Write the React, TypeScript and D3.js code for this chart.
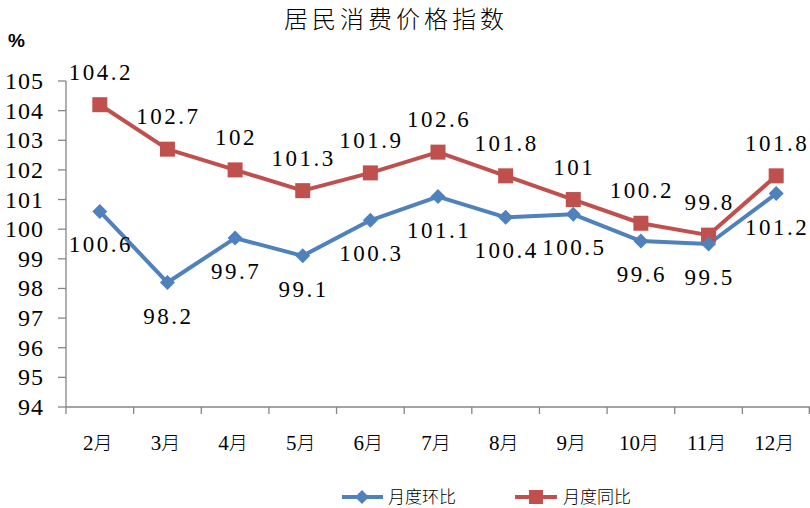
import * as d3 from "d3";

const months = ["2月", "3月", "4月", "5月", "6月", "7月", "8月", "9月", "10月", "11月", "12月"];
const huanbi = [100.6, 98.2, 99.7, 99.1, 100.3, 101.1, 100.4, 100.5, 99.6, 99.5, 101.2];
const tongbi = [104.2, 102.7, 102, 101.3, 101.9, 102.6, 101.8, 101, 100.2, 99.8, 101.8];
const yTicks = [94, 95, 96, 97, 98, 99, 100, 101, 102, 103, 104, 105];

const BLUE = "#4F81BD";
const RED = "#C0504D";
const AXIS = "#868686";
const serif = "Liberation Serif";
const cjk = "Noto Sans CJK SC";

export default function App() {
  const W = 810;
  const H = 508;
  const left = 66;
  const right = 810;
  const top = 81;
  const bottom = 407;

  const x = d3.scaleBand<string>().domain(months).range([left, right]);
  const y = d3.scaleLinear().domain([94, 105]).range([bottom, top]);
  const cx = (m: string) => (x(m) ?? 0) + x.bandwidth() / 2;

  const line = d3
    .line<number>()
    .x((_, i) => cx(months[i]))
    .y((v) => y(v));

  const labelStyle = { fontFamily: serif, letterSpacing: "2.5px" };

  return (
    <div style={{ position: "absolute", left: 0, top: 0 }}>
      <svg width={W} height={H} style={{ display: "block", background: "#fff" }}>
        {/* title */}
        <text
          x={396}
          y={28}
          textAnchor="middle"
          fontSize={24}
          fontWeight={300}
          style={{ fontFamily: cjk, letterSpacing: "4px" }}
          fill="#000"
        >
          居民消费价格指数
        </text>
        <text x={8} y={47} fontWeight="bold" fontSize={19} style={{ fontFamily: "Liberation Sans" }} fill="#000">
          %
        </text>

        {/* y axis */}
        <line x1={left} x2={left} y1={top} y2={bottom} stroke={AXIS} strokeWidth={1.3} />
        {yTicks.map((t) => (
          <g key={t}>
            <line x1={58} x2={left} y1={y(t)} y2={y(t)} stroke={AXIS} strokeWidth={1.3} />
            <text
              x={44}
              y={y(t) + 8}
              textAnchor="end"
              fontSize={24}
              style={{ fontFamily: serif, letterSpacing: "1px" }}
              fill="#000"
            >
              {t}
            </text>
          </g>
        ))}

        {/* x axis */}
        <line x1={left} x2={right} y1={bottom} y2={bottom} stroke={AXIS} strokeWidth={1.3} />
        {months.map((m) => (
          <line key={"t" + m} x1={x(m)} x2={x(m)} y1={bottom} y2={bottom + 7} stroke={AXIS} strokeWidth={1.3} />
        ))}
        <line x1={right - 0.7} x2={right - 0.7} y1={bottom} y2={bottom + 7} stroke={AXIS} strokeWidth={1.3} />
        {months.map((m) => (
          <text
            key={"l" + m}
            x={cx(m) - 2}
            y={450}
            textAnchor="middle"
            fontSize={21}
            style={{ fontFamily: serif }}
            fill="#000"
          >
            {m.replace("月", "")}
            <tspan fontWeight={300} style={{ fontFamily: cjk }} fontSize={19}>
              月
            </tspan>
          </text>
        ))}

        {/* series */}
        <path d={line(tongbi) ?? ""} fill="none" stroke={RED} strokeWidth={4} strokeLinejoin="round" />
        <path d={line(huanbi) ?? ""} fill="none" stroke={BLUE} strokeWidth={4} strokeLinejoin="round" />
        {tongbi.map((v, i) => (
          <rect key={"s" + i} x={cx(months[i]) - 7.5} y={y(v) - 7.5} width={15} height={15} fill={RED} />
        ))}
        {huanbi.map((v, i) => {
          const px = cx(months[i]);
          const py = y(v);
          return (
            <path
              key={"d" + i}
              d={`M${px},${py - 7.5}L${px + 7.5},${py}L${px},${py + 7.5}L${px - 7.5},${py}Z`}
              fill={BLUE}
            />
          );
        })}

        {/* data labels */}
        {tongbi.map((v, i) => (
          <text
            key={"rt" + i}
            x={cx(months[i]) + 1}
            y={y(v) - 33 + 8}
            textAnchor="middle"
            fontSize={23}
            style={labelStyle}
            fill="#000"
          >
            {String(v)}
          </text>
        ))}
        {huanbi.map((v, i) => (
          <text
            key={"bt" + i}
            x={cx(months[i]) + 1}
            y={y(v) + 33 + 8}
            textAnchor="middle"
            fontSize={23}
            style={labelStyle}
            fill="#000"
          >
            {String(v)}
          </text>
        ))}

        {/* legend */}
        <line x1={342} x2={383} y1={497} y2={497} stroke={BLUE} strokeWidth={4} />
        <path d="M362,490L369,497L362,504L355,497Z" fill={BLUE} />
        <text x={388} y={503} fontSize={17} fontWeight={300} style={{ fontFamily: cjk }} fill="#000">
          月度环比
        </text>
        <line x1={515} x2={557} y1={497} y2={497} stroke={RED} strokeWidth={4} />
        <rect x={529} y={490} width={14} height={14} fill={RED} />
        <text x={563} y={503} fontSize={17} fontWeight={300} style={{ fontFamily: cjk }} fill="#000">
          月度同比
        </text>
      </svg>
    </div>
  );
}
